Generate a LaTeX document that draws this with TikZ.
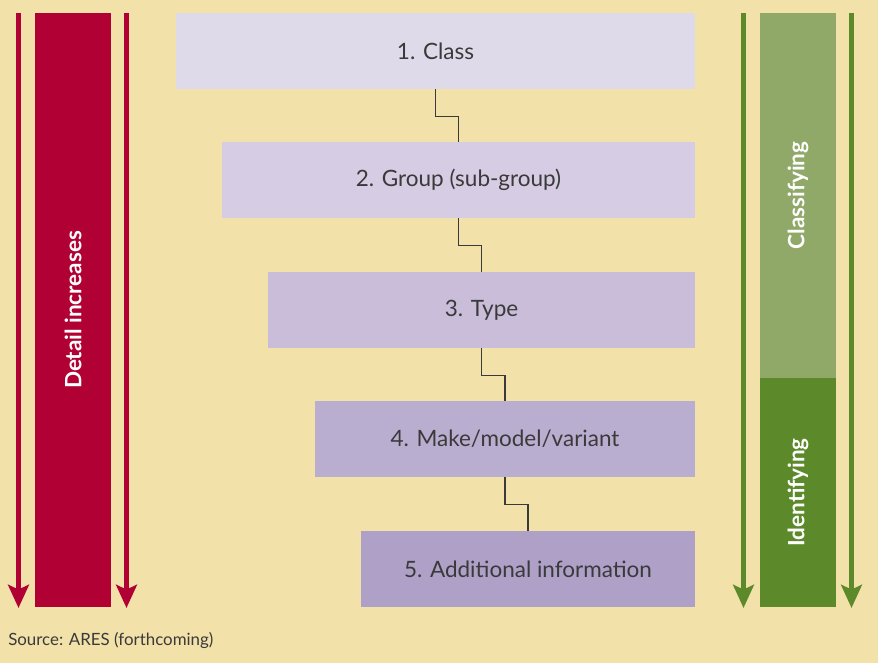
\documentclass[tikz,border=0pt]{standalone}
\usepackage{fontspec}
\setmainfont{Lato}
\usetikzlibrary{arrows.meta}
\definecolor{paper}{HTML}{F3E1AA}
\definecolor{wine}{HTML}{B10034}
\definecolor{leaf}{HTML}{5C8A2A}
\definecolor{sage}{HTML}{90A968}
\definecolor{lvA}{HTML}{DFDAEA}
\definecolor{lvB}{HTML}{D6CCE3}
\definecolor{lvC}{HTML}{C9BDDA}
\definecolor{lvD}{HTML}{BAAED0}
\definecolor{lvE}{HTML}{AFA0C8}
\definecolor{ink}{HTML}{3A3A3A}
\tikzset{
  level/.style={inner sep=0pt,minimum height=76*0.025cm,font=\fontsize{16}{18}\selectfont,text=ink},
  band/.style={inner sep=0pt,minimum height=76*0.025cm,text=white,font=\bfseries\fontsize{16}{18}\selectfont},
  down/.style={line width=3.6pt,-{Stealth[length=0.58cm,width=0.52cm,inset=0.12cm]}},
}
\begin{document}
\begin{tikzpicture}[x=0.025cm,y=0.025cm]
    \fill[paper] (0,0) rectangle (878,663);
    \useasboundingbox (0,0) rectangle (878,663);
    % left side
    \node[band,fill=wine,minimum width=594*0.025cm,rotate=90] (detail) at ( 73.0,353.0) {Detail increases};
    \coordinate (rtopL)  at ( 18.5,650);
    \coordinate (rbotL)  at ( 18.5, 55);
    \coordinate (rtopR)  at (126.5,650);
    \coordinate (rbotR)  at (126.5, 55);
    \draw[down,wine]    (rtopL) -- (rbotL);
    \draw[down,wine]    (rtopR) -- (rbotR);
    % levels
    \node[level,fill=lvA,minimum width=519*0.025cm] (class)  at (435.5,612.0) {1. Class};
    \node[level,fill=lvB,minimum width=473*0.025cm] (group)  at (458.5,483.0) {2. Group (sub-group)};
    \node[level,fill=lvC,minimum width=427*0.025cm] (type)   at (481.5,353.0) {3. Type};
    \node[level,fill=lvD,minimum width=380*0.025cm] (make)   at (505.0,224.0) {4. Make/model/variant};
    \node[level,fill=lvE,minimum width=334*0.025cm] (extra)  at (528.0, 94.0) {5. Additional information};
    \draw[ink,line width=0.9pt] (class.south) -- ++(0,-27) -| (group.north);
    \draw[ink,line width=0.9pt] (group.south) -- ++(0,-27) -| (type.north);
    \draw[ink,line width=0.9pt] (type.south)  -- ++(0,-27) -| (make.north);
    \draw[ink,line width=0.9pt] (make.south)  -- ++(0,-27) -| (extra.north);
    % right side
    \node[band,fill=sage,minimum width=365*0.025cm,rotate=90] (classify) at (798.0,467.5) {Classifying};
    \node[band,fill=leaf,minimum width=229*0.025cm,rotate=90] (identify) at (798.0,170.5) {Identifying};
    \coordinate (gtopL)  at (743.5,650);
    \coordinate (gbotL)  at (743.5, 55);
    \coordinate (gtopR)  at (851.5,650);
    \coordinate (gbotR)  at (851.5, 55);
    \draw[down,leaf]    (gtopL) -- (gbotL);
    \draw[down,leaf]    (gtopR) -- (gbotR);
    \node[anchor=west,inner sep=0pt,text=ink,font=\fontsize{12}{14}\selectfont] (source) at (8,23) {Source: ARES (forthcoming)};
\end{tikzpicture}
\end{document}
